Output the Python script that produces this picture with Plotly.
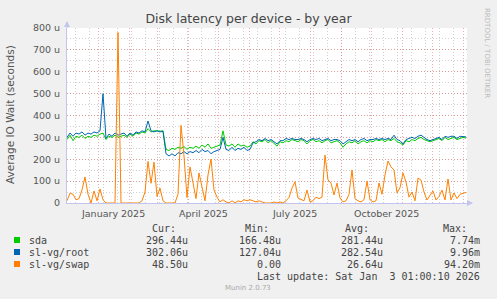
import plotly.graph_objects as go
import pandas as pd

# ---------------- data ----------------
START = "2024-12-01 00:00"
END = "2026-01-05 00:00"
STEP = "3D"

sda = [290, 310, 285, 305, 300, 310, 295, 305, 300, 310,
       305, 315, 320, 290, 305, 300, 310, 300, 305, 310,
       300, 315, 305, 320, 315, 325, 320, 340, 325, 330,
       330, 328, 330, 245, 240, 250, 245, 255, 250, 258,
       245, 255, 250, 260, 250, 265, 255, 270, 250, 255,
       260, 265, 330, 265, 260, 270, 255, 270, 260, 265,
       255, 260, 280, 270, 285, 280, 290, 275, 285, 270,
       260, 280, 275, 285, 280, 290, 285, 280, 290, 285,
       270, 285, 290, 280, 285, 275, 285, 290, 275, 280,
       285, 275, 255, 270, 280, 275, 285, 270, 280, 285,
       275, 285, 280, 290, 285, 290, 280, 290, 285, 295,
       280, 275, 265, 285, 280, 290, 285, 295, 300, 290,
       285, 280, 285, 290, 295, 285, 300, 290, 295, 300,
       290, 295, 300, 296.44]

root = [300, 320, 305, 320, 315, 325, 310, 320, 315, 325,
        320, 330, 500, 295, 315, 305, 320, 310, 315, 320,
        305, 320, 310, 325, 320, 330, 325, 375, 330, 325,
        330, 325, 328, 225, 215, 225, 215, 230, 225, 235,
        225, 235, 230, 240, 230, 245, 235, 240, 225, 235,
        240, 245, 300, 245, 240, 255, 240, 250, 245, 255,
        240, 245, 275, 280, 290, 285, 295, 285, 290, 280,
        270, 285, 285, 295, 290, 295, 290, 290, 295, 290,
        280, 290, 295, 290, 295, 285, 290, 295, 285, 290,
        290, 285, 270, 280, 290, 285, 290, 280, 290, 295,
        285, 290, 290, 295, 290, 295, 290, 295, 290, 310,
        290, 285, 270, 290, 295, 300, 295, 305, 310, 300,
        290, 285, 290, 295, 300, 290, 305, 300, 305, 305,
        295, 305, 305, 302.06]

swap = [10, 45, 40, 15, 20, 60, 119, 40, 0, 55,
        10, 64, 15, 0, 0, 0, 0, 780, 0, 0,
        0, 0, 0, 0, 0, 10, 50, 190, 90, 187,
        30, 68, 10, 0, 0, 0, 0, 40, 355, 215,
        25, 165, 90, 20, 137, 70, 10, 128, 201, 60,
        27, 5, 15, 5, 0, 10, 0, 10, 5, 15,
        10, 15, 10, 5, 10, 5, 0, 0, 0, 5,
        0, 5, 0, 10, 25, 68, 97, 23, 15, 10,
        59, 5, 10, 27, 20, 27, 219, 105, 91, 37,
        91, 23, 5, 10, 40, 151, 20, 10, 5, 15,
        100, 15, 5, 10, 91, 40, 128, 192, 165, 151,
        46, 70, 137, 96, 27, 50, 10, 114, 105, 50,
        14, 37, 55, 14, 30, 59, 14, 110, 14, 46,
        20, 40, 45, 48.5]

series_names = ["sda", "sl-vg/root", "sl-vg/swap"]
series_colors = ["#00CC00", "#0066B3", "#FF8000"]
cur_vals = ["296.44u", "302.06u", "48.50u"]
min_vals = ["166.48u", "127.04u", "0.00"]
avg_vals = ["281.44u", "282.54u", "26.64u"]
max_vals = ["7.74m", "9.96m", "94.20m"]

y_tick_vals = [0, 100, 200, 300, 400, 500, 600, 700, 800]
y_tick_text = ["0", "100 u", "200 u", "300 u", "400 u", "500 u", "600 u", "700 u", "800 u"]
x_label_dates = ["2025-01-16", "2025-04-16", "2025-07-16", "2025-10-16"]
x_label_text = ["January 2025", "April 2025", "July 2025", "October 2025"]

# ---------------- figure ----------------
W, H = 497, 299
L, R, T, B = 67, 467, 28, 203


def px(x):
    return (x - L) / (R - L)


def py(y):
    return (B - y) / (B - T)


dates = pd.date_range(START, periods=len(sda), freq=STEP)
fig = go.Figure()
for vals, name, col in zip([sda, root, swap], series_names, series_colors):
    fig.add_trace(go.Scatter(x=dates, y=vals, mode="lines", name=name,
                             line=dict(color=col, width=1), hoverinfo="skip"))

month_starts = pd.date_range("2024-12-01", "2026-01-01", freq="MS")
minor_ticks = pd.date_range("2024-12-09", END, freq="14D")

RED = "rgba(225,110,110,0.55)"
GRAY = "rgba(170,170,170,0.55)"
AXIS = "#C4C4F0"
TXT = "#555555"

fig.update_layout(
    width=W, height=H,
    margin=dict(l=L, r=W - R, t=T, b=H - B, pad=0),
    paper_bgcolor="#F0F0F0", plot_bgcolor="#FFFFFF",
    showlegend=False,
    title=dict(text="Disk latency per device - by year", x=0.5, xanchor="center",
               xref="container", y=1 - 19 / H, yref="container", yanchor="middle",
               font=dict(family="DejaVu Sans", size=12.5, color="#444444")),
    xaxis=dict(type="date", range=[START, END], tickmode="array", tickvals=list(month_starts),
               showticklabels=False, ticks="", showgrid=True, gridcolor=RED, gridwidth=1,
               griddash="1px,2px", zeroline=False, showline=True, linecolor=AXIS, linewidth=1,
               minor=dict(tickmode="array", tickvals=list(minor_ticks), showgrid=True,
                          gridcolor=GRAY, gridwidth=1, griddash="1px,2px", ticks="")),
    yaxis=dict(range=[0, 800], tickmode="array", tickvals=y_tick_vals, ticktext=y_tick_text,
               ticks="", ticklabelstandoff=4,
               tickfont=dict(family="DejaVu Sans", size=9.5, color=TXT),
               showgrid=True, gridcolor=RED, gridwidth=1, griddash="1px,2px",
               zeroline=False, showline=True, linecolor=AXIS, linewidth=1,
               minor=dict(dtick=50, showgrid=True, gridcolor=GRAY, gridwidth=1,
                          griddash="1px,2px", ticks="")),
)

ann = []
# x labels
for d, t in zip(x_label_dates, x_label_text):
    ann.append(dict(x=d, xref="x", y=py(213), yref="paper", text=t, showarrow=False,
                    xanchor="center", yanchor="middle",
                    font=dict(family="DejaVu Sans", size=9.5, color=TXT)))
# y title
ann.append(dict(x=px(10), xref="paper", y=py(115), yref="paper",
                text="Average IO Wait (seconds)", textangle=-90, showarrow=False,
                xanchor="center", yanchor="middle",
                font=dict(family="DejaVu Sans", size=10.5, color=TXT)))
# right watermark
ann.append(dict(x=px(487), xref="paper", y=py(53), yref="paper",
                text="RRDTOOL / TOBI OETIKER", textangle=90, showarrow=False,
                xanchor="center", yanchor="middle",
                font=dict(family="DejaVu Sans", size=7, color="#BBBBBB")))

MONO = dict(family="DejaVu Sans Mono", size=10, color="#444444")
# legend header
for txt, xr in zip(["Cur:", "Min:", "Avg:", "Max:"], [178, 271, 371, 469]):
    ann.append(dict(x=px(xr), xref="paper", y=py(228), yref="paper", text=txt,
                    showarrow=False, xanchor="right", yanchor="middle", font=MONO))
shapes = []
rows_y = [240, 252, 264]
for i, yy in enumerate(rows_y):
    ann.append(dict(x=px(27), xref="paper", y=py(yy), yref="paper", text=series_names[i],
                    showarrow=False, xanchor="left", yanchor="middle", font=MONO))
    for txt, xr in zip([cur_vals[i], min_vals[i], avg_vals[i], max_vals[i]], [190, 283, 385, 482]):
        ann.append(dict(x=px(xr), xref="paper", y=py(yy), yref="paper", text=txt,
                        showarrow=False, xanchor="right", yanchor="middle", font=MONO))
    shapes.append(dict(type="rect", xref="paper", yref="paper",
                       x0=px(14), x1=px(20), y0=py(yy + 3), y1=py(yy - 3),
                       fillcolor=series_colors[i], line=dict(width=0)))
ann.append(dict(x=px(482), xref="paper", y=py(276), yref="paper",
                text="Last update: Sat Jan  3 01:00:10 2026".replace(" ", "&nbsp;"),
                showarrow=False, xanchor="right", yanchor="middle", font=MONO))
ann.append(dict(x=px(248), xref="paper", y=py(288), yref="paper", text="Munin 2.0.73",
                showarrow=False, xanchor="center", yanchor="middle",
                font=dict(family="DejaVu Sans", size=7, color="#AAAAAA")))

# axis arrows
shapes.append(dict(type="line", xref="paper", yref="paper", x0=px(67), x1=px(67),
                   y0=py(28), y1=py(22), line=dict(color=AXIS, width=1)))
shapes.append(dict(type="path", xref="paper", yref="paper",
                   path=f"M {px(64)} {py(27)} L {px(70)} {py(27)} L {px(67)} {py(21)} Z",
                   fillcolor=AXIS, line=dict(width=0)))
shapes.append(dict(type="line", xref="paper", yref="paper", x0=px(467), x1=px(472),
                   y0=py(203), y1=py(203), line=dict(color=AXIS, width=1)))
shapes.append(dict(type="path", xref="paper", yref="paper",
                   path=f"M {px(467)} {py(200)} L {px(467)} {py(206)} L {px(473)} {py(203)} Z",
                   fillcolor=AXIS, line=dict(width=0)))

fig.update_layout(annotations=ann, shapes=shapes)
fig.write_html("out.html", config={"displayModeBar": False})
